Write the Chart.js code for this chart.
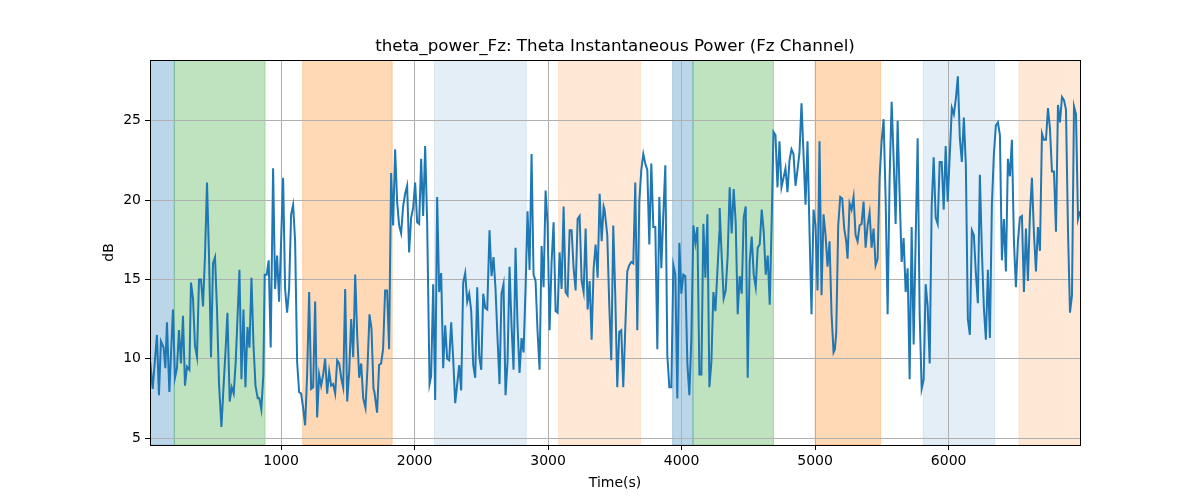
<!DOCTYPE html>
<html>
<head>
<meta charset="utf-8">
<script src="https://cdn.jsdelivr.net/npm/chart.js@4.4.1/dist/chart.umd.min.js"></script>
<style>
  html, body { margin: 0; padding: 0; background: #fff; }
  #wrap { width: 1200px; height: 500px; }
</style>
</head>
<body>
<div id="wrap"><canvas id="chart" width="1200" height="500"></canvas></div>
<script>
// Tempo (s) e potência theta (dB)
const timeSec = [
  20, 38, 70, 85, 100, 120, 133, 145, 163, 190, 205, 220, 235, 250, 265, 280, 295, 313, 325, 340,
  355, 370, 385, 400, 415, 430, 445, 460, 475, 490, 505, 520, 535, 553, 568, 585, 598, 615, 630, 645,
  660, 688, 703, 718, 733, 748, 763, 778, 793, 808, 825,
  837, 852, 867, 877, 892, 907, 922, 940, 955, 970, 985, 1000, 1015, 1030, 1045, 1060, 1075, 1090, 1105, 1120,
  1135, 1150, 1165, 1180, 1195, 1210, 1225, 1240, 1255, 1270, 1285, 1300, 1315, 1330, 1345, 1360, 1375, 1390, 1405, 1420,
  1435, 1450, 1465, 1480, 1495, 1510, 1525, 1540, 1555, 1570, 1585, 1600, 1615, 1632, 1647, 1662, 1677, 1692,
  1699, 1719, 1734, 1749, 1764, 1779, 1794, 1809, 1824, 1839, 1854, 1869, 1884, 1899, 1914, 1929, 1944, 1959, 1974, 1989,
  2004, 2019, 2034, 2049, 2064, 2079, 2094, 2112, 2124, 2139, 2154, 2169, 2184, 2199, 2214, 2229, 2244, 2259, 2274, 2289,
  2304, 2319, 2334, 2349, 2364, 2379, 2394, 2409, 2424, 2439, 2454, 2469, 2484, 2499, 2514, 2529, 2544,
  2561, 2576, 2591, 2606, 2621, 2636, 2651, 2666, 2681, 2696, 2711, 2726, 2741, 2756, 2771, 2786, 2801, 2816, 2831, 2846,
  2861, 2876, 2891, 2906, 2921, 2936, 2951, 2966, 2981, 2996, 3011, 3026, 3041, 3056, 3071, 3086, 3101, 3116, 3131, 3146,
  3161, 3176, 3191, 3206, 3221, 3236, 3251, 3266, 3281, 3296, 3311, 3326, 3341, 3356, 3371, 3386, 3401, 3416,
  3423, 3443, 3458, 3473, 3488, 3503, 3518, 3533, 3548, 3563, 3578, 3593, 3608, 3623, 3638, 3653, 3668, 3683, 3698, 3713,
  3728, 3743, 3758, 3773, 3788, 3803, 3818, 3833, 3848, 3863, 3878, 3893, 3908, 3923, 3938, 3953, 3968, 3983, 3998, 4013,
  4028, 4043, 4058, 4073, 4088, 4103, 4118, 4133, 4148, 4163, 4178, 4193, 4208, 4223, 4238, 4253, 4268, 4283,
  4285, 4300, 4315, 4330, 4345, 4360, 4375, 4390, 4405, 4420, 4435, 4450, 4465, 4480, 4495, 4510, 4525, 4540, 4555, 4570,
  4585, 4600, 4615, 4630, 4645, 4660, 4675, 4688, 4703, 4718, 4733, 4748, 4763, 4778, 4793, 4808, 4823, 4838, 4853, 4868,
  4883, 4898, 4913, 4928, 4943, 4958, 4973, 4988, 5003, 5018, 5033, 5048, 5063, 5078, 5093, 5108, 5123, 5138,
  5148, 5158, 5173, 5188, 5203, 5218, 5233, 5243, 5258, 5273, 5288, 5303, 5318, 5333, 5348, 5363, 5378, 5393, 5408, 5423,
  5438, 5453, 5468, 5483, 5498, 5513, 5528, 5543, 5558, 5573, 5588, 5603, 5618, 5633, 5648, 5663, 5678, 5693, 5708, 5723,
  5738, 5753, 5768, 5783, 5798, 5813, 5828, 5843, 5858, 5873, 5888, 5903, 5918, 5933, 5948, 5963, 5978, 5993,
  6024, 6039, 6054, 6069, 6084, 6099, 6114, 6129, 6144, 6159, 6174, 6189, 6204, 6219, 6234, 6249, 6264, 6279, 6294, 6309,
  6324, 6339, 6354, 6369, 6384, 6399, 6414, 6429, 6444, 6459, 6474, 6489, 6504, 6519, 6534, 6549, 6564, 6579, 6594, 6609,
  6624, 6639, 6654, 6669, 6684, 6699, 6714, 6729, 6744, 6759, 6774, 6789, 6804, 6819, 6834, 6849, 6864, 6879, 6894, 6909,
  6924, 6939, 6954, 6969, 6984
];

const powerDb = [
  9.8, 8.1, 11.5, 7.7, 11.1, 10.7, 9.4, 12.3, 7.9, 13.1, 8.8, 9.4, 11.8, 9.7, 12.7, 8.3, 9.5, 9.3, 14.8, 13.8,
  10.8, 10.1, 15.0, 15.0, 13.3, 16.5, 21.1, 16.5, 10.1, 16.0, 16.4, 13.1, 8.4, 5.7, 8.1, 10.7, 12.9, 7.3, 8.2, 7.8,
  9.8, 15.6, 8.7, 13.1, 8.2, 12.0, 10.7, 15.1, 10.9, 8.3, 7.5,
  7.5, 6.8, 9.0, 15.3, 15.3, 16.2, 10.7, 22.0, 14.4, 16.5, 13.6, 17.4, 21.4, 14.4, 12.9, 14.4, 19.1, 19.7, 17.4, 9.8,
  7.9, 7.8, 6.9, 5.8, 9.0, 14.2, 8.1, 8.2, 13.6, 6.3, 9.0, 8.3, 9.0, 10.0, 7.8, 9.2, 8.3, 8.4, 7.8, 9.9,
  9.7, 8.8, 8.2, 14.4, 7.3, 9.2, 12.5, 10.1, 15.3, 11.5, 8.8, 9.7, 7.5, 6.9, 9.4, 12.8, 11.9, 8.1,
  7.9, 6.6, 9.6, 9.7, 10.6, 14.3, 14.3, 10.6, 21.7, 18.4, 23.2, 19.9, 18.4, 17.9, 19.6, 20.4, 20.9, 16.7, 18.9, 19.5,
  21.1, 18.6, 18.5, 22.6, 19.0, 23.4, 18.6, 8.4, 8.9, 14.7, 7.4, 20.2, 14.2, 15.4, 9.4, 12.1, 10.0, 9.9, 12.3, 10.0,
  7.2, 8.4, 9.6, 8.0, 14.8, 15.4, 13.6, 14.1, 13.0, 9.6, 8.8, 14.5, 10.2, 9.3, 14.1, 13.2, 13.1,
  18.1, 15.2, 16.4, 14.4, 11.3, 8.4, 14.1, 14.7, 7.7, 9.8, 15.8, 12.1, 9.3, 17.0, 12.1, 9.1, 11.3, 10.4, 14.4, 19.3,
  15.6, 22.9, 15.3, 14.9, 11.7, 9.3, 17.1, 14.5, 20.6, 18.5, 11.8, 16.1, 18.6, 13.0, 12.9, 16.7, 14.4, 19.6, 14.2, 14.0,
  18.1, 18.1, 15.7, 14.3, 18.8, 19.0, 14.9, 14.2, 18.2, 13.1, 14.9, 11.2, 15.7, 17.2, 15.1, 20.4, 17.4, 19.6,
  19.4, 17.8, 13.4, 9.9, 18.4, 14.0, 8.2, 11.7, 11.8, 8.2, 11.9, 15.5, 15.9, 16.1, 16.0, 21.1, 11.8, 19.9, 21.9, 22.9,
  22.3, 21.9, 17.2, 22.3, 18.3, 18.3, 10.6, 20.2, 15.7, 19.1, 22.2, 10.2, 8.2, 8.2, 15.9, 15.3, 7.5, 17.3, 14.1, 15.3,
  15.2, 9.7, 7.7, 11.3, 18.4, 17.3, 18.3, 9.0, 9.0, 18.5, 15.1, 19.1, 8.2, 9.8, 14.2, 13.0, 15.5, 18.0,
  19.5, 16.5, 13.8, 14.3, 16.5, 20.8, 17.9, 20.7, 18.6, 12.8, 15.2, 14.1, 18.9, 19.6, 8.8, 16.1, 17.7, 15.3, 14.5, 17.0,
  17.2, 19.4, 18.0, 15.3, 16.5, 13.4, 18.8, 24.3, 24.1, 20.8, 23.7, 20.8, 21.4, 22.0, 20.5, 22.5, 23.2, 22.9, 20.9, 21.9,
  23.0, 26.1, 22.9, 19.7, 23.7, 18.0, 12.8, 19.4, 18.4, 14.3, 23.7, 14.0, 19.1, 17.8, 15.8, 17.4, 12.8, 10.4,
  10.6, 11.6, 18.4, 20.2, 20.1, 18.2, 17.4, 16.3, 19.8, 19.4, 20.2, 17.8, 17.4, 18.4, 18.5, 19.9, 17.0, 18.4, 19.2, 17.0,
  18.2, 15.9, 16.3, 21.4, 23.7, 25.1, 20.1, 12.8, 21.4, 26.2, 22.6, 18.5, 25.0, 20.3, 16.1, 17.6, 14.2, 15.7, 8.7, 18.3,
  10.9, 17.5, 23.9, 12.8, 8.1, 8.7, 14.7, 13.3, 9.7, 19.6, 22.7, 18.9, 18.5, 22.4, 22.4, 19.4, 23.4, 19.9,
  25.8, 25.4, 26.4, 27.8, 23.9, 22.4, 25.2, 22.2, 12.5, 11.5, 18.1, 17.8, 15.4, 13.5, 21.6, 16.8, 13.2, 11.2, 15.6, 11.3,
  19.7, 22.9, 24.7, 24.9, 24.1, 16.2, 18.8, 15.5, 22.6, 21.5, 23.8, 17.4, 14.5, 17.4, 18.9, 19.0, 14.2, 18.2, 14.9, 19.1,
  21.4, 17.9, 15.5, 18.3, 16.8, 24.2, 23.8, 23.8, 25.8, 24.5, 21.8, 21.8, 18.0, 26.0, 24.9, 26.5, 26.3, 25.7, 18.1, 12.9,
  14.0, 25.9, 25.4, 18.8, 19.3
];

// Faixas sombreadas (início, fim, cor)
const spanStart = [18, 200, 1162, 2149, 3079, 3933, 4085, 5000, 5810, 6527];
const spanEnd = [200, 880, 1832, 2836, 3691, 4085, 4688, 5490, 6345, 7000];
const spanColor = [
  'rgba(31, 119, 180, 0.3)',
  'rgba(44, 160, 44, 0.3)',
  'rgba(255, 127, 14, 0.3)',
  'rgba(31, 119, 180, 0.12)',
  'rgba(255, 127, 14, 0.17)',
  'rgba(31, 119, 180, 0.3)',
  'rgba(44, 160, 44, 0.3)',
  'rgba(255, 127, 14, 0.3)',
  'rgba(31, 119, 180, 0.12)',
  'rgba(255, 127, 14, 0.17)'
];

const xTicks = [1000, 2000, 3000, 4000, 5000, 6000];
const yTicks = [5, 10, 15, 20, 25];

const chartTitle = 'theta_power_Fz: Theta Instantaneous Power (Fz Channel)';
const FONT = 'DejaVu Sans';

// Faixas antes da grade, moldura e título depois
const spanPlugin = {
    id: 'spans',
    beforeDraw(chart) {
        const { ctx, chartArea, scales } = chart;
        ctx.save();
        ctx.beginPath();
        ctx.rect(chartArea.left, chartArea.top, chartArea.right - chartArea.left, chartArea.bottom - chartArea.top);
        ctx.clip();
        spanStart.forEach((s, i) => {
            const x0 = scales.x.getPixelForValue(s);
            const x1 = scales.x.getPixelForValue(spanEnd[i]);
            ctx.fillStyle = spanColor[i];
            ctx.fillRect(x0, chartArea.top, x1 - x0, chartArea.bottom - chartArea.top);
            ctx.strokeStyle = spanColor[i];
            ctx.lineWidth = 1;
            ctx.strokeRect(x0, chartArea.top, x1 - x0, chartArea.bottom - chartArea.top);
        });
        ctx.restore();
    },
    afterDatasetsDraw(chart) {
        const { ctx, chartArea } = chart;
        ctx.save();
        ctx.strokeStyle = '#000';
        ctx.lineWidth = 1;
        ctx.strokeRect(Math.round(chartArea.left) + 0.5, Math.round(chartArea.top) + 0.5,
            Math.round(chartArea.right - chartArea.left), Math.round(chartArea.bottom - chartArea.top));
        // Título centrado na área do gráfico
        ctx.fillStyle = '#000';
        ctx.font = '16.7px "' + FONT + '"';
        ctx.textAlign = 'center';
        ctx.textBaseline = 'middle';
        ctx.fillText(chartTitle, (chartArea.left + chartArea.right) / 2, 47);
        ctx.restore();
    }
};

const points = timeSec.map((t, i) => ({ x: t, y: powerDb[i] }));

new Chart(document.getElementById('chart'), {
    type: 'line',
    data: {
        datasets: [{
            data: points,
            borderColor: '#1f77b4',
            borderWidth: 2,
            pointRadius: 0,
            tension: 0,
            fill: false
        }]
    },
    options: {
        responsive: false,
        animation: false,
        layout: { padding: { left: 0, right: 120, top: 60, bottom: 0 } },
        plugins: {
            legend: { display: false },
            tooltip: { enabled: false },
            title: { display: false }
        },
        scales: {
            x: {
                type: 'linear',
                min: 18,
                max: 6984,
                afterBuildTicks: (scale) => { scale.ticks = xTicks.map(v => ({ value: v })); },
                afterFit: (scale) => { scale.height = 55; },
                ticks: {
                    color: '#000',
                    font: { family: FONT, size: 14 },
                    padding: 3,
                    maxRotation: 0,
                    callback: (v) => String(v)
                },
                grid: { color: '#b0b0b0', lineWidth: 1, tickColor: '#000', tickLength: 5 },
                border: { display: false },
                title: {
                    display: true,
                    text: 'Time(s)',
                    color: '#000',
                    font: { family: FONT, size: 14 },
                    padding: { top: 0, bottom: 8 }
                }
            },
            y: {
                type: 'linear',
                min: 4.56,
                max: 28.83,
                afterBuildTicks: (scale) => { scale.ticks = yTicks.map(v => ({ value: v })); },
                afterFit: (scale) => { scale.width = 150; },
                ticks: {
                    color: '#000',
                    font: { family: FONT, size: 14 },
                    padding: 4,
                    callback: (v) => String(v)
                },
                grid: { color: '#b0b0b0', lineWidth: 1, tickColor: '#000', tickLength: 5 },
                border: { display: false },
                title: {
                    display: true,
                    text: 'dB',
                    color: '#000',
                    font: { family: FONT, size: 14 },
                    padding: { top: 101, bottom: 0 }
                }
            }
        }
    },
    plugins: [spanPlugin]
});
</script>
</body>
</html>
